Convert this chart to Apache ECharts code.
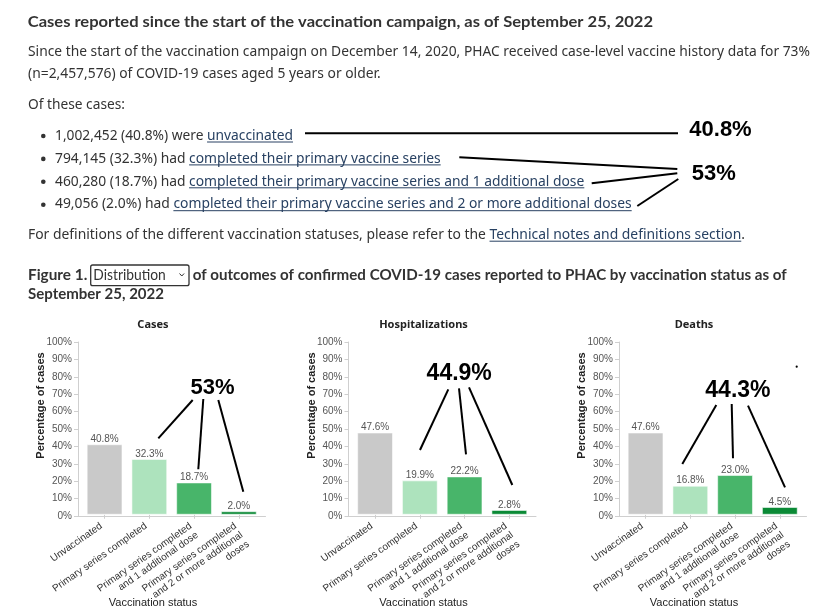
<!DOCTYPE html>
<html><head><meta charset="utf-8">
<script src="https://cdn.jsdelivr.net/npm/echarts@6/dist/echarts.min.js"></script>
<style>html,body{margin:0;padding:0;background:#fff}#c{width:839px;height:614px}</style>
</head><body><div id="c"></div>
<script>
// ---------------- DATA ----------------
const categories = ['Unvaccinated', 'Primary series completed', 'Primary series completed\nand 1 additional dose', 'Primary series completed\nand 2 or more additional\ndoses'];
const casesPct = [40.8, 32.3, 18.7, 2.0];
const hospPct = [47.6, 19.9, 22.2, 2.8];
const deathsPct = [47.6, 16.8, 23.0, 4.5];
const panelTitles = ['Cases', 'Hospitalizations', 'Deaths'];
const panelTotals = ['53%', '44.9%', '44.3%'];
const bulletCounts = ['1,002,452', '794,145', '460,280', '49,056'];
const bulletPct = ['40.8%', '32.3%', '18.7%', '2.0%'];
const bulletVerbs = ['were', 'had', 'had', 'had'];
const bulletLinks = ['unvaccinated', 'completed their primary vaccine series', 'completed their primary vaccine series and 1 additional dose', 'completed their primary vaccine series and 2 or more additional doses'];
const summaryTotals = ['40.8%', '53%'];
const yTickFormat = '{value}%';

// ---------------- STYLE / LAYOUT ----------------
const barColors = ['#c9c9c9', '#ade3bd', '#48b56a', '#0b8a36'];
const TEXT = '#333', LINK = '#284162';
const BODY = '15px "Noto Sans"';
const HEAD = 'bold 16px Lato';
const cv = document.createElement('canvas').getContext('2d');
function measure(t, font) { cv.font = font; return cv.measureText(t).width; }
const G = [];
function addText(t, x, y, font, color, k, align) {
  G.push({ type: 'text', x: x, y: y, scaleX: k || 1, silent: true,
    style: { text: t, font: font, fill: color, textAlign: align || 'left', textVerticalAlign: 'middle', align: align || 'left', verticalAlign: 'middle' } });
}
function addLine(x1, y1, x2, y2, w, c) {
  G.push({ type: 'line', silent: true, shape: { x1, y1, x2, y2 }, style: { stroke: c || '#000', lineWidth: w || 2 } });
}
function fitLine(segs, x0, x1, y, font, ul) {
  const ws = segs.map(s => measure(s.t, s.font || font));
  const W = ws.reduce((a, b) => a + b, 0);
  const k = (x1 - x0) / W;
  let x = x0;
  segs.forEach((s, i) => {
    addText(s.t, x, y, s.font || font, s.link ? LINK : (s.color || TEXT), k);
    if (s.link) addLine(x, y + (ul || 6.5), x + ws[i] * k, y + (ul || 6.5), 1, LINK);
    x += ws[i] * k;
  });
}

// Page text
fitLine([{ t: 'Cases reported since the start of the vaccination campaign, as of September 25, 2022' }], 27.7, 653, 22, HEAD);
fitLine([{ t: 'Since the start of the vaccination campaign on December 14, 2020, PHAC received case-level vaccine history data for 73%' }], 28, 810, 51.5, BODY);
fitLine([{ t: '(n=2,457,576) of COVID-19 cases aged 5 years or older.' }], 28, 380.7, 74, BODY);
fitLine([{ t: 'Of these cases:' }], 28, 125, 105, BODY);
const bulletY = [135.5, 158.4, 181.3, 204.2];
const bulletEnd = [293, 440.7, 584.3, 631.7];
bulletCounts.forEach((c, i) => {
  G.push({ type: 'circle', silent: true, shape: { cx: 43.3, cy: bulletY[i] + 0.5, r: 2.3 }, style: { fill: TEXT } });
  fitLine([{ t: c + ' (' + bulletPct[i] + ') ' + bulletVerbs[i] + ' ' }, { t: bulletLinks[i], link: true }], 55, bulletEnd[i], bulletY[i], BODY);
});
fitLine([{ t: 'For definitions of the different vaccination statuses, please refer to the ' }, { t: 'Technical notes and definitions section', link: true }, { t: '.' }], 28, 745, 234.7, BODY);
// Figure heading
fitLine([{ t: 'Figure 1.' }], 28, 87.3, 275, HEAD);
G.push({ type: 'rect', silent: true, shape: { x: 90.7, y: 265, width: 98.3, height: 20.7, r: 2 }, style: { fill: 'none', stroke: '#333', lineWidth: 1.3 } });
fitLine([{ t: 'Distribution' }], 93.3, 165.7, 275, '16px Lato');
G.push({ type: 'polyline', silent: true, shape: { points: [[179.5, 273.5], [181.8, 276], [184.1, 273.5]] }, style: { stroke: '#333', lineWidth: 1, fill: 'none' } });
fitLine([{ t: 'of outcomes of confirmed COVID-19 cases reported to PHAC by vaccination status as of' }], 192.7, 786.7, 275, HEAD);
fitLine([{ t: 'September 25, 2022' }], 28, 164, 294, HEAD);

// Summary annotation
const BIG = 'bold 22px "Liberation Sans"';
addText(summaryTotals[0], 689.3, 130, BIG, '#000');
addText(summaryTotals[1], 691.7, 173.5, BIG, '#000');
addLine(305, 133.3, 678, 133.3);
addLine(459.3, 157.3, 677.3, 169);
addLine(591.7, 183.3, 677.3, 173.3);
addLine(637.3, 206, 678.3, 179);

// ---------------- CHARTS ----------------
const panelValues = [casesPct, hospPct, deathsPct];
const panelLeft = [78, 348.5, 619];
const OW = 187.5, IW = 179, TOP = 342, H = 174;
const grids = [], xAxes = [], yAxes = [], series = [];
const axisGray = '#cfcfcf';
panelValues.forEach((vals, p) => {
  const L = panelLeft[p];
  grids.push({ left: L, top: TOP, width: OW, height: H });
  grids.push({ left: L + 4.2, top: TOP, width: IW, height: H });
  xAxes.push({ type: 'value', gridIndex: 2 * p, min: 0, max: 1, axisLine: { show: true, lineStyle: { color: axisGray } }, axisTick: { show: false }, axisLabel: { show: false }, splitLine: { show: false } });
  yAxes.push({ type: 'value', gridIndex: 2 * p, min: 0, max: 100, interval: 10,
    axisLine: { show: true, lineStyle: { color: axisGray } }, axisTick: { show: true, length: 4, lineStyle: { color: axisGray } },
    axisLabel: { formatter: yTickFormat, fontSize: 10, fontFamily: '"Liberation Sans"', color: '#555', margin: 6 }, splitLine: { show: false } });
  xAxes.push({ type: 'category', gridIndex: 2 * p + 1, data: categories,
    axisLine: { show: false }, axisTick: { show: true, alignWithLabel: true, length: 4, lineStyle: { color: axisGray } },
    axisLabel: { interval: 0, rotate: 35, fontSize: 10, fontFamily: '"Liberation Sans"', color: '#333', lineHeight: 11, margin: 8, padding: [0, 4, 0, 0],
      formatter: v => '\n'.repeat(v.split('\n').length - 1) + v } });
  yAxes.push({ type: 'value', gridIndex: 2 * p + 1, min: 0, max: 100, show: false });
  series.push({ type: 'bar', xAxisIndex: 2 * p + 1, yAxisIndex: 2 * p + 1, barCategoryGap: '20%',
    data: vals.map((v, i) => ({ value: v, itemStyle: { color: barColors[i], borderColor: 'rgba(255,255,255,0.55)', borderWidth: 1 } })),
    label: { show: true, position: 'top', distance: 0, fontSize: 10, fontFamily: '"Liberation Sans"', color: '#555', formatter: q => q.value.toFixed(1) + '%' } });
  const cx = L + 75;
  addText(panelTitles[p], cx, 325, 'bold 11px "Noto Sans"', '#222', 1, 'center');
  G.push({ type: 'text', x: L - 37, y: 405.5, rotation: Math.PI / 2, silent: true,
    style: { text: 'Percentage of cases', font: 'bold 11px "Liberation Sans"', fill: '#222', textAlign: 'center', textVerticalAlign: 'middle', align: 'center', verticalAlign: 'middle' } });
  addText('Vaccination status', cx, 602.7, '11px "Liberation Sans"', '#222', 1, 'center');
});

// Panel annotations
const PBIG = 'bold 22px "Liberation Sans"';
addText(panelTotals[0], 212.5, 387.5, PBIG, '#000', 1, 'center');
addLine(192.7, 400, 158.3, 438.3); addLine(203.3, 399, 198.3, 469.3); addLine(218.3, 400, 243.3, 491.7);
addText(panelTotals[1], 459.2, 373.3, 'bold 23px "Liberation Sans"', '#000', 1, 'center');
addLine(448.3, 389.3, 420, 450); addLine(459, 388.3, 466, 454.3); addLine(469, 387.3, 512.3, 485);
addText(panelTotals[2], 737.9, 390.5, 'bold 23px "Liberation Sans"', '#000', 1, 'center');
addLine(716.3, 405, 682.3, 464); addLine(731.7, 404, 733, 458.3); addLine(748, 405.7, 785, 487.3);
G.push({ type: 'circle', silent: true, shape: { cx: 796.7, cy: 366.7, r: 1.1 }, style: { fill: '#000' } });

const chart = echarts.init(document.getElementById('c'), null, { renderer: 'canvas', width: 839, height: 614 });
chart.setOption({ animation: false, backgroundColor: '#fff', grid: grids, xAxis: xAxes, yAxis: yAxes, series: series, graphic: { elements: G } });
</script></body></html>
